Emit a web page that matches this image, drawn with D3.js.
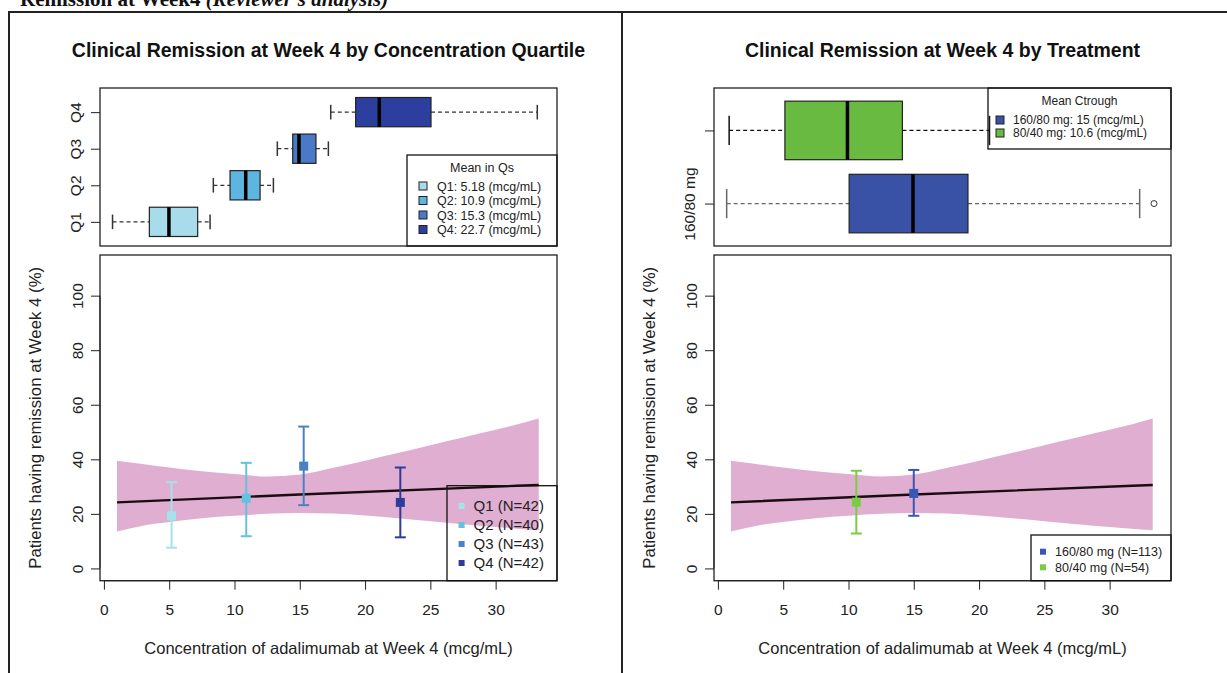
<!DOCTYPE html>
<html>
<head>
<meta charset="utf-8">
<script src="https://cdn.jsdelivr.net/npm/d3@7"></script>
<style>
  body { margin: 0; background: #fff; }
  svg text { font-family: "Liberation Sans", Arial, sans-serif; fill: #222; }
</style>
</head>
<body>
<svg width="1227" height="673"></svg>
<script>
// ---- DATA ----

// concentration quartiles
var quartiles = ["Q1", "Q2", "Q3", "Q4"];
var quartileMeans = [5.18, 10.9, 15.3, 22.7];
var quartileN = [42, 40, 43, 42];
// boxplot stats: whisker low, Q1, median, Q3, whisker high
var quartileBoxes = [
  [0.66, 3.48, 4.98, 7.18, 8.13],
  [8.38, 9.66, 10.86, 11.96, 12.98],
  [13.28, 14.46, 14.94, 16.24, 17.19],
  [17.37, 19.28, 21.09, 25.05, 33.19]
];
var quartileRemission = [19.3, 25.7, 37.5, 24.2];
var quartileCiLow = [7.6, 11.8, 23.2, 11.4];
var quartileCiHigh = [31.6, 38.7, 52.0, 37.0];

// treatment arms
var treatments = ["160/80 mg", "80/40 mg"];
var treatmentMeans = [15, 10.6];
var treatmentN = [113, 54];
var treatmentBoxes = [
  [0.67, 10.05, 14.94, 19.15, 32.3],
  [0.86, 5.13, 9.92, 14.13, 20.8]
];
var treatmentOutliers = [[33.4], []];
var treatmentRemission = [27.5, 24.3];
var treatmentCiLow = [19.3, 12.8];
var treatmentCiHigh = [36.1, 35.8];

// logistic fit with 95% band (same on both panels)
var fitConc = [1, 2.8, 5, 7.5, 10, 12.5, 15, 17.5, 20, 22.5, 25, 27.5, 30, 33.3];
var fitUpper = [39.5, 38.4, 37, 35.6, 34.6, 33.7, 34.4, 36.8, 39.5, 42.3, 45.2, 48, 50.8, 55];
var fitLower = [13.5, 15.5, 17, 18.4, 19.3, 20, 20.3, 20.1, 19.4, 18.4, 17.3, 16.2, 15.2, 14];
var fitLineConc = [1, 15, 33.3];
var fitLineValue = [24.2, 27.1, 30.6];

var xTicks = [0, 5, 10, 15, 20, 25, 30];
var yTicks = [0, 20, 40, 60, 80, 100];

// ---- STYLE ----
var quartileFill = ["#a8dcea", "#5db6df", "#4a7ac6", "#2c3f9e"];
var quartileBar = ["#a3e3ea", "#62c2e0", "#4a80c4", "#2d3c9a"];
var treatmentFill = ["#3a52a6", "#68bb40"];
var treatmentBar = ["#3b56b6", "#7bcc45"];
var bandColor = "#e0aed0";
var font = '"Liberation Sans", Arial, sans-serif';

var svg = d3.select("svg");

// ---- page header + table lines ----
var header = svg.append("text")
    .attr("x", 20).attr("y", 6)
    .style("font-family", '"Liberation Serif", "Times New Roman", serif')
    .style("font-weight", "bold").style("font-size", "21px").style("fill", "#111")
    .text("Remission at Week4 ");
header.append("tspan").style("font-style", "italic").text("(Reviewer's analysis)");

svg.append("line").attr("x1", 8).attr("x2", 1227).attr("y1", 12).attr("y2", 12).attr("stroke", "#222").attr("stroke-width", 2);
svg.append("line").attr("x1", 9).attr("x2", 9).attr("y1", 12).attr("y2", 673).attr("stroke", "#222").attr("stroke-width", 2);
svg.append("line").attr("x1", 622).attr("x2", 622).attr("y1", 12).attr("y2", 673).attr("stroke", "#222").attr("stroke-width", 2);

function xScale(dx) {
  return d3.scaleLinear().domain([-0.3, 34.7]).range([100 + dx, 557 + dx]);
}
var yFit = d3.scaleLinear().domain([-4.5, 114.9]).range([580.7, 255]);

function styleAxis(g) {
  g.attr("font-family", font).attr("font-size", 15.5).attr("color", "#222");
  g.selectAll(".tick line").attr("stroke-width", 1);
}

// ---- top boxplot panel ----
function drawBoxPanel(dx, boxes, outliers, fills, yDomain, labels, whiskerColors) {
  var x = xScale(dx);
  var y = d3.scaleLinear().domain(yDomain).range([246, 88]);
  var half = y(0) - y(0.4);
  var g = svg.append("g");

  boxes.forEach(function(b, i) {
    var cy = y(i + 1);
    // dashed whiskers
    g.append("line").attr("x1", x(b[0])).attr("x2", x(b[1])).attr("y1", cy).attr("y2", cy)
      .attr("stroke", whiskerColors[i]).attr("stroke-dasharray", "4,3").attr("stroke-width", 1.2);
    g.append("line").attr("x1", x(b[3])).attr("x2", x(b[4])).attr("y1", cy).attr("y2", cy)
      .attr("stroke", whiskerColors[i]).attr("stroke-dasharray", "4,3").attr("stroke-width", 1.2);
    // staples
    [b[0], b[4]].forEach(function(v) {
      g.append("line").attr("x1", x(v)).attr("x2", x(v)).attr("y1", cy - half / 2).attr("y2", cy + half / 2)
        .attr("stroke", whiskerColors[i]).attr("stroke-width", 1.5);
    });
    // box
    g.append("rect").attr("x", x(b[1])).attr("y", cy - half)
      .attr("width", x(b[3]) - x(b[1])).attr("height", half * 2)
      .attr("fill", fills[i]).attr("stroke", "#222").attr("stroke-width", 1.2);
    // median
    g.append("line").attr("x1", x(b[2])).attr("x2", x(b[2])).attr("y1", cy - half).attr("y2", cy + half)
      .attr("stroke", "#000").attr("stroke-width", 3.5);
    (outliers[i] || []).forEach(function(o) {
      g.append("circle").attr("cx", x(o)).attr("cy", cy).attr("r", 3)
        .attr("fill", "none").attr("stroke", "#333").attr("stroke-width", 1);
    });
  });

  g.append("rect").attr("x", 100 + dx).attr("y", 88).attr("width", 457).attr("height", 158)
    .attr("fill", "none").attr("stroke", "#222").attr("stroke-width", 1.3);

  var ax = g.append("g").attr("transform", "translate(" + (100 + dx) + ",0)")
    .call(d3.axisLeft(y).tickValues(labels.map(function(d, i) { return i + 1; }))
      .tickSize(9).tickSizeOuter(0).tickFormat(function(d) { return labels[d - 1]; }));
  styleAxis(ax);
  ax.select(".domain").remove();
  ax.selectAll(".tick text")
    .attr("transform", "rotate(-90)").attr("x", 0).attr("y", -19).attr("dy", null)
    .attr("text-anchor", "middle");
}

// ---- bottom fit panel ----
function drawFitPanel(dx, means, rates, lows, highs, barColors) {
  var x = xScale(dx);
  var g = svg.append("g");

  var bandData = fitConc.map(function(c, i) { return { c: c, lo: fitLower[i], hi: fitUpper[i] }; });
  g.append("path").datum(bandData)
    .attr("fill", bandColor)
    .attr("d", d3.area().curve(d3.curveMonotoneX)
      .x(function(d) { return x(d.c); })
      .y0(function(d) { return yFit(d.lo); })
      .y1(function(d) { return yFit(d.hi); }));

  g.append("path").datum(fitLineConc.map(function(c, i) { return [c, fitLineValue[i]]; }))
    .attr("fill", "none").attr("stroke", "#1a0d12").attr("stroke-width", 2.4)
    .attr("d", d3.line().curve(d3.curveMonotoneX)
      .x(function(d) { return x(d[0]); }).y(function(d) { return yFit(d[1]); }));

  means.forEach(function(m, i) {
    var cx = x(m);
    g.append("line").attr("x1", cx).attr("x2", cx).attr("y1", yFit(lows[i])).attr("y2", yFit(highs[i]))
      .attr("stroke", barColors[i]).attr("stroke-width", 2);
    [lows[i], highs[i]].forEach(function(v) {
      g.append("line").attr("x1", cx - 5.5).attr("x2", cx + 5.5).attr("y1", yFit(v)).attr("y2", yFit(v))
        .attr("stroke", barColors[i]).attr("stroke-width", 2);
    });
    g.append("rect").attr("x", cx - 4.5).attr("y", yFit(rates[i]) - 4.5).attr("width", 9).attr("height", 9)
      .attr("fill", barColors[i]);
  });

  g.append("rect").attr("x", 100 + dx).attr("y", 255).attr("width", 457).attr("height", 325.7)
    .attr("fill", "none").attr("stroke", "#222").attr("stroke-width", 1.3);

  var ay = g.append("g").attr("transform", "translate(" + (100 + dx) + ",0)")
    .call(d3.axisLeft(yFit).tickValues(yTicks).tickSize(9).tickSizeOuter(0));
  styleAxis(ay);
  ay.select(".domain").attr("d", "M0," + yFit(0) + "V" + yFit(100));
  ay.selectAll(".tick text")
    .attr("transform", "rotate(-90)").attr("x", 0).attr("y", -17).attr("dy", null)
    .attr("text-anchor", "middle");

  var axx = g.append("g").attr("transform", "translate(0,580.7)")
    .call(d3.axisBottom(x).tickValues(xTicks).tickSize(9).tickSizeOuter(0).tickPadding(14));
  styleAxis(axx);
  axx.select(".domain").attr("d", "M" + x(0) + ",0H" + x(30));

  g.append("text").attr("x", 328.5 + dx).attr("y", 654).attr("text-anchor", "middle")
    .style("font-size", "16.5px").text("Concentration of adalimumab at Week 4 (mcg/mL)");
  g.append("text").attr("transform", "translate(" + (41 + dx) + "," + 417.8 + ") rotate(-90)")
    .attr("text-anchor", "middle").style("font-size", "16.8px")
    .text("Patients having remission at Week 4 (%)");
}

function drawLegend(box, title, titleY, labels, ys, colors, symX, textX, fontSize, symSize, symStroke) {
  var g = svg.append("g");
  g.append("rect").attr("x", box[0]).attr("y", box[1]).attr("width", box[2] - box[0]).attr("height", box[3] - box[1])
    .attr("fill", "none").attr("stroke", "#111").attr("stroke-width", 1.3);
  if (title) {
    g.append("text").attr("x", (box[0] + box[2]) / 2).attr("y", titleY + fontSize * 0.36)
      .attr("text-anchor", "middle").style("font-size", fontSize + "px").text(title);
  }
  labels.forEach(function(l, i) {
    g.append("rect").attr("x", symX - symSize / 2).attr("y", ys[i] - symSize / 2)
      .attr("width", symSize).attr("height", symSize).attr("fill", colors[i])
      .attr("stroke", symStroke ? "#222" : "none").attr("stroke-width", 1);
    g.append("text").attr("x", textX).attr("y", ys[i] + fontSize * 0.36)
      .style("font-size", fontSize + "px").text(l);
  });
}

// ---- LEFT: by quartile ----
svg.append("text").attr("x", 328.5).attr("y", 57).attr("text-anchor", "middle")
  .style("font-size", "19.5px").style("font-weight", "bold").style("fill", "#111")
  .text("Clinical Remission at Week 4 by Concentration Quartile");

drawBoxPanel(0, quartileBoxes, [], quartileFill, [0.34, 4.66], quartiles, ["#333", "#333", "#333", "#333"]);
drawLegend([407, 155, 557, 246], "Mean in Qs", 167,
  quartiles.map(function(q, i) { return q + ": " + quartileMeans[i] + " (mcg/mL)"; }),
  [186, 200.5, 215, 229.5], quartileFill, 423, 437, 12.5, 8, true);

drawFitPanel(0, quartileMeans, quartileRemission, quartileCiLow, quartileCiHigh, quartileBar);
drawLegend([447, 485.7, 557, 580.7], null, 0,
  quartiles.map(function(q, i) { return q + " (N=" + quartileN[i] + ")"; }),
  [506, 525, 544, 563], quartileBar, 461.6, 473.5, 15, 6, false);

// ---- RIGHT: by treatment ----
svg.append("text").attr("x", 942.5).attr("y", 57).attr("text-anchor", "middle")
  .style("font-size", "19.5px").style("font-weight", "bold").style("fill", "#111")
  .text("Clinical Remission at Week 4 by Treatment");

drawBoxPanel(614, treatmentBoxes, treatmentOutliers, treatmentFill, [0.42, 2.58], [treatments[0], ""], ["#666", "#111"]);
drawLegend([988, 88, 1171, 149], "Mean Ctrough", 101,
  treatments.map(function(t, i) { return t + ": " + treatmentMeans[i] + " (mcg/mL)"; }),
  [120, 133], treatmentFill, 1000, 1013, 12, 8, true);

drawFitPanel(614, treatmentMeans, treatmentRemission, treatmentCiLow, treatmentCiHigh, treatmentBar);
drawLegend([1031, 535, 1171, 580.7], null, 0,
  treatments.map(function(t, i) { return t + " (N=" + treatmentN[i] + ")"; }),
  [551.7, 567.3], treatmentBar, 1043, 1055, 12.5, 6, false);
</script>
</body>
</html>
